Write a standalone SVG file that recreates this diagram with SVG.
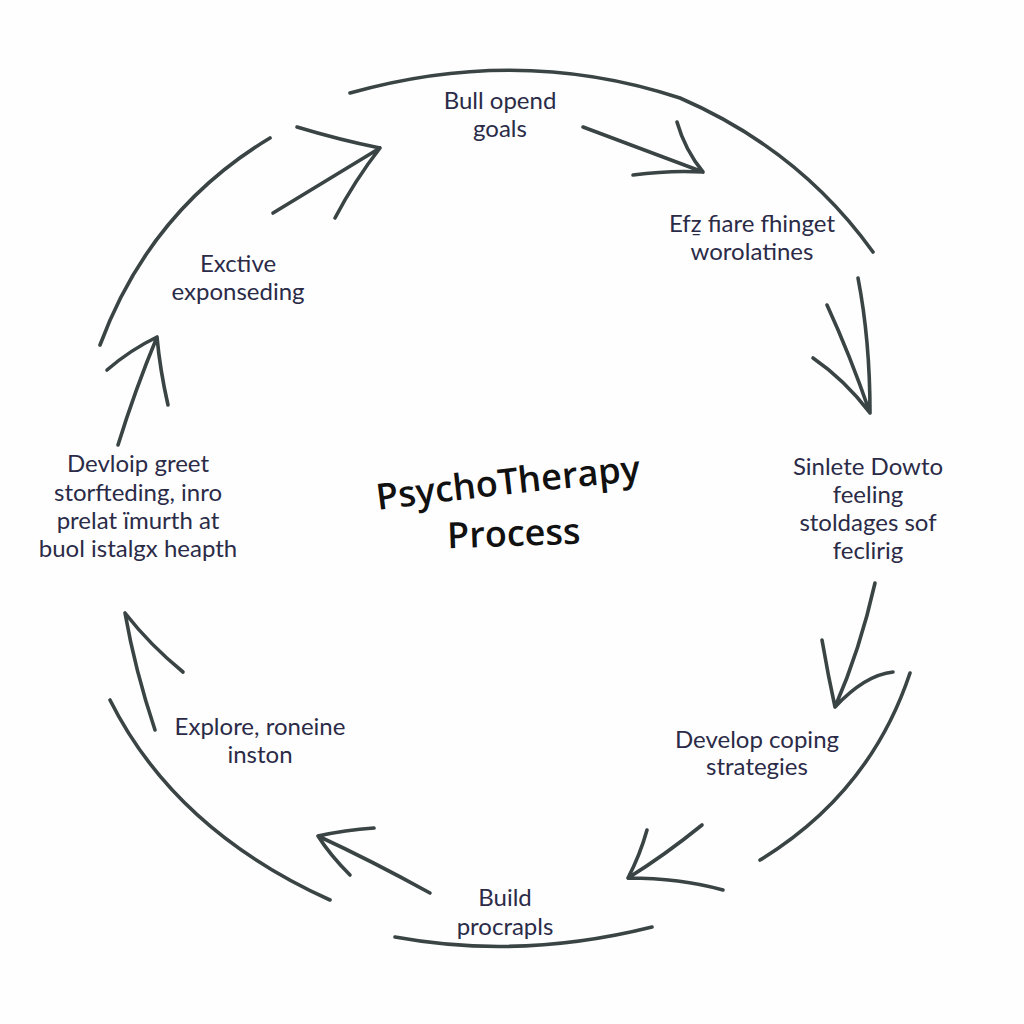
<svg xmlns="http://www.w3.org/2000/svg" width="1024" height="1024" viewBox="0 0 1024 1024">
<style>
.c{fill:none;stroke:#3a4444;stroke-width:3.6;stroke-linecap:round;stroke-linejoin:round}
.t{font-family:Lato,"Open Sans",sans-serif;font-size:24px;fill:#2b2b48;text-anchor:middle}
.title{font-family:"Open Sans",Lato,sans-serif;font-size:36px;font-weight:600;fill:#111}
</style>
<rect width="1024" height="1024" fill="#fefefe"/>
<g id="connectors">
<path class="c" d="M350,93 Q520,45 680,98 Q800,150 873,252"/>
<path class="c" d="M270,138 Q150,210 100,345"/>
<path class="c" d="M273,213 L380,148 M297,127 Q340,140 380,148 M335,218 Q355,180 380,148"/>
<path class="c" d="M583,127 L703,172 M677,122 Q685,150 703,172 M633,175 Q670,170 703,172"/>
<path class="c" d="M858,278 Q870,340 870,413 M827,305 Q850,355 870,413 M813,358 Q845,380 870,413"/>
<path class="c" d="M875,583 Q860,650 835,707 M822,640 Q828,675 835,707 M893,672 Q865,675 835,707"/>
<path class="c" d="M910,673 Q870,793 760,860"/>
<path class="c" d="M702,825 Q665,855 628,878 M647,830 Q640,855 628,878 M723,890 Q680,878 628,878"/>
<path class="c" d="M652,927 Q520,960 395,937"/>
<path class="c" d="M430,893 Q370,860 318,836 M374,828 Q345,830 318,836 M350,875 Q330,855 318,836"/>
<path class="c" d="M110,700 Q175,830 330,900"/>
<path class="c" d="M155,730 Q135,670 125,613 M183,672 Q150,645 125,613"/>
<path class="c" d="M118,445 Q135,390 157,337 M107,370 Q130,350 157,337 M168,405 Q160,370 157,337"/>
</g>
<g id="title">
<path id="tp" d="M378,510 Q500,494 648,480" fill="none"/>
<text class="title"><textPath href="#tp" textLength="265" lengthAdjust="spacingAndGlyphs">PsychoTherapy</textPath></text>
<text class="title" x="514" y="546" text-anchor="middle" transform="rotate(-2 514 540)">Process</text>
</g>
<g id="n1"><text class="t" x="500" y="109">Bull opend</text><text class="t" x="500" y="137">goals</text></g>
<g id="n2"><text class="t" x="752" y="232">Efẕ fiare fhinget</text><text class="t" x="752" y="260">worolatines</text></g>
<g id="n3"><text class="t" x="868" y="475">Sinlete Dowto</text><text class="t" x="868" y="503">feeling</text><text class="t" x="868" y="531">stoldages sof</text><text class="t" x="868" y="559">feclirig</text></g>
<g id="n4"><text class="t" x="757" y="748">Develop coping</text><text class="t" x="757" y="775">strategies</text></g>
<g id="n5"><text class="t" x="505" y="906">Build</text><text class="t" x="505" y="935">procrapls</text></g>
<g id="n6"><text class="t" x="260" y="735">Explore, roneine</text><text class="t" x="260" y="763">inston</text></g>
<g id="n7"><text class="t" x="138" y="472">Devloip greet</text><text class="t" x="138" y="501">storfteding, inro</text><text class="t" x="138" y="529">prelat ïmurth at</text><text class="t" x="138" y="557">buol istalgx heapth</text></g>
<g id="n8"><text class="t" x="238" y="272">Exctive</text><text class="t" x="238" y="300">exponseding</text></g>
</svg>
